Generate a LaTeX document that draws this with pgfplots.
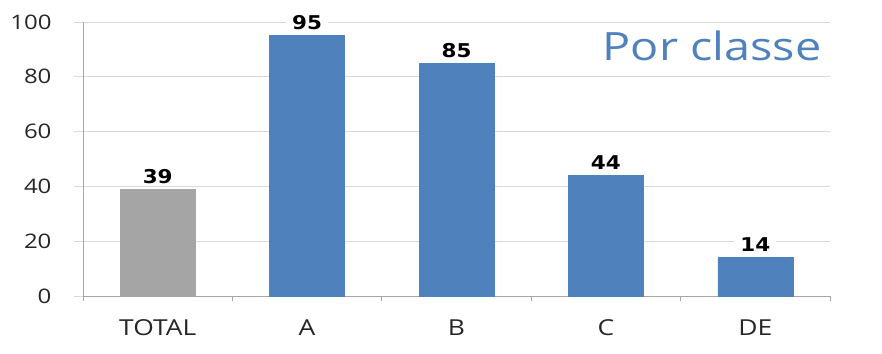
\documentclass[border=0pt]{standalone}
\usepackage{pgfplots}
\pgfplotsset{compat=1.18}
\usepackage{fontspec}
\setmainfont{Open Sans}[FakeStretch=1.2]
\newfontfamily\labelfont{DejaVu Sans}[FakeStretch=1.13]
\definecolor{barblue}{HTML}{4F81BD}
\definecolor{bargray}{HTML}{A5A5A5}
\definecolor{gridgray}{HTML}{D9D9D9}
\definecolor{axisgray}{HTML}{A6A6A6}
\definecolor{ticktext}{HTML}{262626}
\begin{document}
\begin{tikzpicture}
\begin{axis}[
  scale only axis,
  width=747pt, height=274pt,
  xmin=-0.5, xmax=4.5,
  ymin=0, ymax=100,
  axis x line*=bottom, axis y line*=left,
  axis line style={axisgray, line width=0.9pt},
  xtick={0,1,2,3,4},
  xticklabels={TOTAL,A,B,C,DE},
  major x tick style={draw=none},
  minor xtick={-0.5,0.5,1.5,2.5,3.5,4.5},
  minor x tick style={axisgray, line width=0.9pt},
  minor tick length=5pt,
  ytick={0,20,40,60,80,100},
  major tick length=9pt,
  y tick style={gridgray, line width=0.9pt},
  tick align=outside,
  ymajorgrids,
  grid style={gridgray, line width=0.9pt},
  tick label style={text=ticktext},
  yticklabel style={font=\fontsize{20}{20}\selectfont, xshift=-19pt},
  xticklabel style={font=\fontsize{22}{22}\selectfont, yshift=-11pt},
  /pgf/number format/assume math mode=true,
  ybar, bar width=75pt, bar shift=0pt,
  nodes near coords,
  every node near coord/.append style={font=\labelfont\bfseries\fontsize{19}{19}\selectfont,
    text=black, fill=white, inner xsep=6pt, inner ysep=1.5pt, yshift=4pt},
  clip=false,
]
\addplot[fill=bargray, draw=bargray] coordinates {(0,39)};
\addplot[fill=barblue, draw=barblue] coordinates {(1,95) (2,85) (3,44) (4,14)};
\node[anchor=base east, text=barblue, font=\fontsize{39}{39}\selectfont]
  at (axis cs:4.5,86.1) [xshift=-5pt] {Por classe};
\end{axis}
\path (-83pt,-57pt) rectangle (799pt,296pt);
\end{tikzpicture}
\end{document}
